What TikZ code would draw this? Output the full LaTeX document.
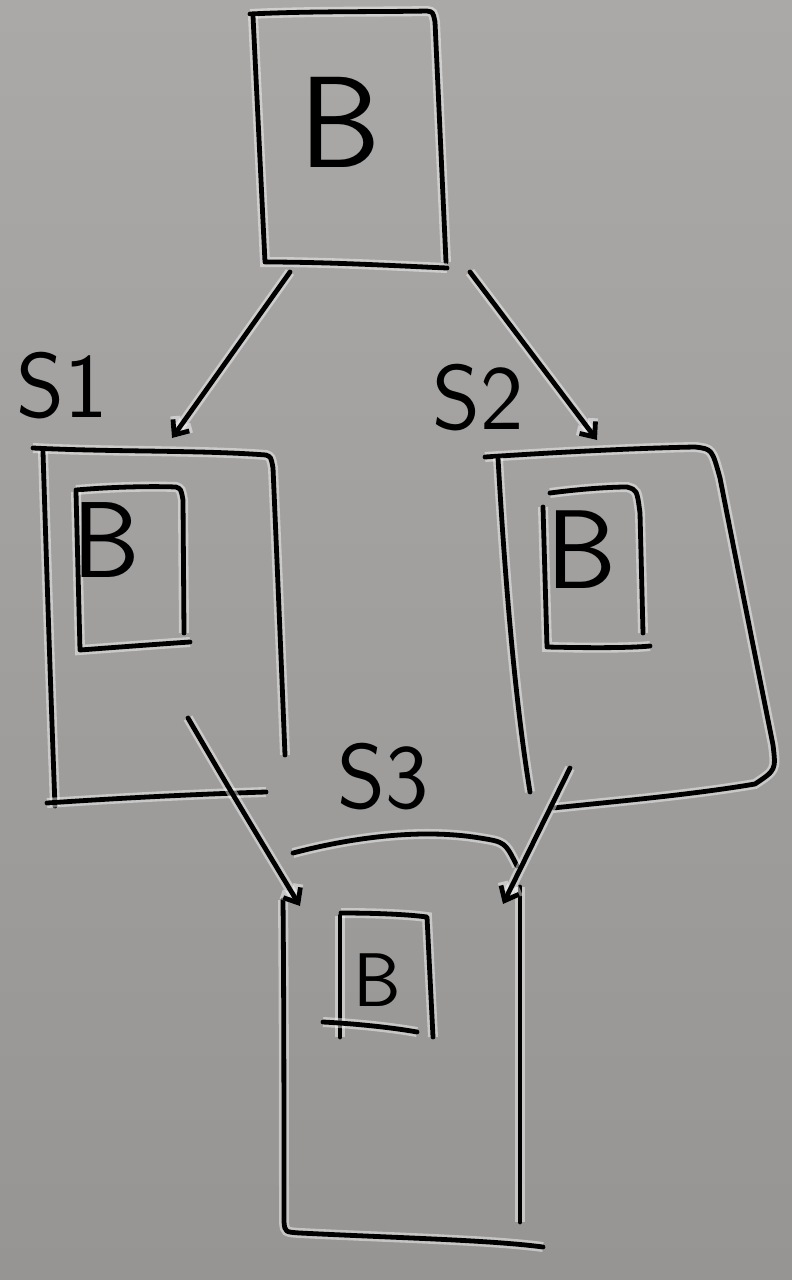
\documentclass[tikz,border=0pt]{standalone}
\usetikzlibrary{arrows.meta}
\definecolor{boardtop}{RGB}{170,169,167}
\definecolor{boardbot}{RGB}{151,149,148}
\begin{document}
\begin{tikzpicture}[x=1pt,y=-1pt,
  ink/.style={line width=4.8pt, line cap=round, line join=round, draw=black,
    preaction={draw=white, draw opacity=0.45, line width=10pt}},
  flow/.style={ink, -{Straight Barb[length=12pt,width=20pt]}},
  letter/.style={font=\sffamily, text=black, inner sep=0pt}]
% whiteboard
\shade[top color=boardtop, bottom color=boardbot] (0,0) rectangle (792,1280);
\useasboundingbox (0,0) rectangle (792,1280);

% ---- top block B ----
\draw[ink] (250,14) .. controls (310,11) and (380,12) .. (427,11)
  .. controls (433,12) .. (435,22) -- (446,262);
\draw[ink] (253,16) -- (265,262) .. controls (330,262) and (400,266) .. (447,268);
\node[letter, font=\sffamily\fontsize{130}{130}\selectfont] (topB) at (340,122) {B};

% ---- S1 ----
\node[letter, font=\sffamily\fontsize{92}{92}\selectfont] (lS1) at (62,386) {S1};
\draw[ink] (33,448) .. controls (110,452) and (200,450) .. (266,455)
  .. controls (271,457) .. (273,468) .. controls (277,560) and (282,680) .. (285,755);
\draw[ink] (43,452) .. controls (47,580) and (51,700) .. (55,806);
\draw[ink] (47,803) .. controls (120,798) and (200,794) .. (266,792);
% inner block
\draw[ink] (76,490) .. controls (110,487) and (150,486) .. (176,487)
  .. controls (181,489) .. (183,500) -- (184,633);
\draw[ink] (76,492) -- (80,650) .. controls (120,647) and (160,644) .. (190,642);
\node[letter, font=\sffamily\fontsize{108}{108}\selectfont] (s1B) at (106,540) {B};

% ---- S2 ----
\node[letter, font=\sffamily\fontsize{92}{92}\selectfont] (lS2) at (478,398) {S2};
\draw[ink] (485,457) .. controls (560,452) and (640,448) .. (695,447)
  .. controls (712,449) .. (720,478) .. controls (740,580) and (760,680) .. (773,745)
  .. controls (776,770) .. (755,784) .. controls (690,795) and (610,802) .. (553,808);
\draw[ink] (498,458) .. controls (505,580) and (515,700) .. (530,792);
% inner block
\draw[ink] (550,493) .. controls (580,489) and (610,487) .. (627,487)
  .. controls (637,490) .. (640,513) -- (643,633);
\draw[ink] (543,507) -- (547,647) .. controls (590,648) and (630,648) .. (650,646);
\node[letter, font=\sffamily\fontsize{112}{112}\selectfont] (s2B) at (582,550) {B};

% ---- S3 ----
\node[letter, font=\sffamily\fontsize{92}{92}\selectfont] (lS3) at (383,777) {S3};
\draw[ink] (293,853) .. controls (350,838) and (420,828) .. (480,838)
  .. controls (505,842) .. (517,866);
\draw[ink] (283,900) .. controls (284,1000) and (284,1150) .. (284,1222)
  .. controls (285,1232) .. (300,1233) .. controls (400,1238) and (490,1240) .. (543,1247);
\draw[ink] (520,887) .. controls (520,1000) and (520,1150) .. (520,1222);
% inner block
\draw[ink] (341,913) .. controls (370,913) and (405,914) .. (427,917)
  -- (433,1037);
\draw[ink] (340,916) -- (340,1037);
\draw[ink] (323,1022) .. controls (360,1024) and (395,1028) .. (417,1032);
\node[letter, font=\sffamily\fontsize{76}{76}\selectfont] (s3B) at (377,980) {B};

% ---- connectors ----
\coordinate (topL) at (290,272);
\coordinate (topR) at (470,272);
\coordinate (s1In) at (172,438);
\coordinate (s2In) at (597,440);
\coordinate (s1Out) at (188,718);
\coordinate (s2Out) at (570,768);
\coordinate (s3InL) at (300,906);
\coordinate (s3InR) at (503,904);
\draw[flow] (topL) -- (s1In);
\draw[flow] (topR) -- (s2In);
\draw[flow] (s1Out) .. controls (230,790) .. (s3InL);
\draw[flow] (s2Out) -- (s3InR);
\end{tikzpicture}
\end{document}
